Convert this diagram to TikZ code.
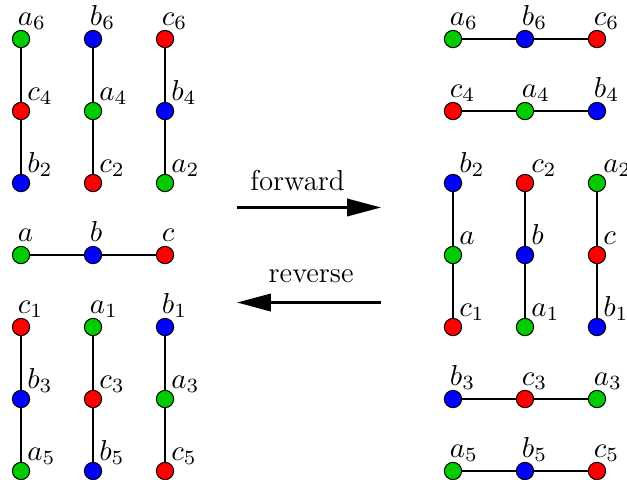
\RequirePackage{fix-cm}
\documentclass[tikz,border=0pt]{standalone}
\usepackage{xcolor}
\usepackage{tikz}
\usetikzlibrary{
    positioning,
    arrows.meta,
}
\definecolor{vgreen}{RGB}{0,204,0}
\tikzset{
    % Vertex styles
    vertex/.style={circle, draw, line width=0.4pt, minimum size=2.4mm, inner sep=0pt},
    va/.style={vertex, fill=vgreen},
    vb/.style={vertex, fill=blue},
    vc/.style={vertex, fill=red},
    % Label styles
    vlabel/.style={anchor=base west, inner sep=0pt},
    name above/.style={append after command={
        node[vlabel] (\tikzlastnode-t) at ([shift={(-0.05,0.19)}]\tikzlastnode.center) {$#1$}}},
    name side/.style={append after command={
        node[vlabel] (\tikzlastnode-t) at ([shift={(0.08,0.15)}]\tikzlastnode.center) {$#1$}}},
    % Line styles
    edge/.style={line width=1pt},
    arrow/.style={-{Triangle[length=4.7mm, width=2.4mm]}, line width=1pt},
}

\begin{document}
\begin{tikzpicture}[font=\fontsize{11.4}{13.7}\selectfont]
    \useasboundingbox (-0.292,-3.125) rectangle (8.417,3.542);

    % Left: upper columns
    \node[va, name above=a_6] (la6) at (0,3) {};
    \node[vc, name side=c_4] (lc4) at (0,2) {};
    \node[vb, name side=b_2] (lb2) at (0,1) {};
    \node[vb, name above=b_6] (lb6) at (1,3) {};
    \node[va, name side=a_4] (la4) at (1,2) {};
    \node[vc, name side=c_2] (lc2) at (1,1) {};
    \node[vc, name above=c_6] (lc6) at (2,3) {};
    \node[vb, name side=b_4] (lb4) at (2,2) {};
    \node[va, name side=a_2] (la2) at (2,1) {};
    \draw[edge] (la6) -- (lc4) -- (lb2);
    \draw[edge] (lb6) -- (la4) -- (lc2);
    \draw[edge] (lc6) -- (lb4) -- (la2);

    % Left: middle row
    \node[va, name above=a] (la) at (0,0) {};
    \node[vb, name above=b] (lb) at (1,0) {};
    \node[vc, name above=c] (lc) at (2,0) {};
    \draw[edge] (la) -- (lb) -- (lc);

    % Left: lower columns
    \node[vc, name above=c_1] (lc1) at (0,-1) {};
    \node[vb, name side=b_3] (lb3) at (0,-2) {};
    \node[va, name side=a_5] (la5) at (0,-3) {};
    \node[va, name above=a_1] (la1) at (1,-1) {};
    \node[vc, name side=c_3] (lc3) at (1,-2) {};
    \node[vb, name side=b_5] (lb5) at (1,-3) {};
    \node[vb, name above=b_1] (lb1) at (2,-1) {};
    \node[va, name side=a_3] (la3) at (2,-2) {};
    \node[vc, name side=c_5] (lc5) at (2,-3) {};
    \draw[edge] (lc1) -- (lb3) -- (la5);
    \draw[edge] (la1) -- (lc3) -- (lb5);
    \draw[edge] (lb1) -- (la3) -- (lc5);

    % Arrows
    \coordinate (fwdL) at (3,0.66);
    \coordinate (fwdR) at (5,0.66);
    \coordinate (revL) at (3,-0.66);
    \coordinate (revR) at (5,-0.66);
    \draw[arrow] (fwdL) -- (fwdR);
    \draw[arrow] (revR) -- (revL);
    \node[anchor=base, inner sep=0pt] (fwd) at (3.84,0.9) {forward};
    \node[anchor=base, inner sep=0pt] (rev) at (4.03,-0.375) {reverse};

    % Right: upper rows
    \node[va, name above=a_6] (ra6) at (6,3) {};
    \node[vb, name above=b_6] (rb6) at (7,3) {};
    \node[vc, name above=c_6] (rc6) at (8,3) {};
    \node[vc, name above=c_4] (rc4) at (6,2) {};
    \node[va, name above=a_4] (ra4) at (7,2) {};
    \node[vb, name above=b_4] (rb4) at (8,2) {};
    \draw[edge] (ra6) -- (rb6) -- (rc6);
    \draw[edge] (rc4) -- (ra4) -- (rb4);

    % Right: middle columns
    \node[vb, name side=b_2] (rb2) at (6,1) {};
    \node[va, name side=a] (ra) at (6,0) {};
    \node[vc, name side=c_1] (rc1) at (6,-1) {};
    \node[vc, name side=c_2] (rc2) at (7,1) {};
    \node[vb, name side=b] (rb) at (7,0) {};
    \node[va, name side=a_1] (ra1) at (7,-1) {};
    \node[va, name side=a_2] (ra2) at (8,1) {};
    \node[vc, name side=c] (rc) at (8,0) {};
    \node[vb, name side=b_1] (rb1) at (8,-1) {};
    \draw[edge] (rb2) -- (ra) -- (rc1);
    \draw[edge] (rc2) -- (rb) -- (ra1);
    \draw[edge] (ra2) -- (rc) -- (rb1);

    % Right: lower rows
    \node[vb, name above=b_3] (rb3) at (6,-2) {};
    \node[vc, name above=c_3] (rc3) at (7,-2) {};
    \node[va, name above=a_3] (ra3) at (8,-2) {};
    \node[va, name above=a_5] (ra5) at (6,-3) {};
    \node[vb, name above=b_5] (rb5) at (7,-3) {};
    \node[vc, name above=c_5] (rc5) at (8,-3) {};
    \draw[edge] (rb3) -- (rc3) -- (ra3);
    \draw[edge] (ra5) -- (rb5) -- (rc5);
\end{tikzpicture}
\end{document}
